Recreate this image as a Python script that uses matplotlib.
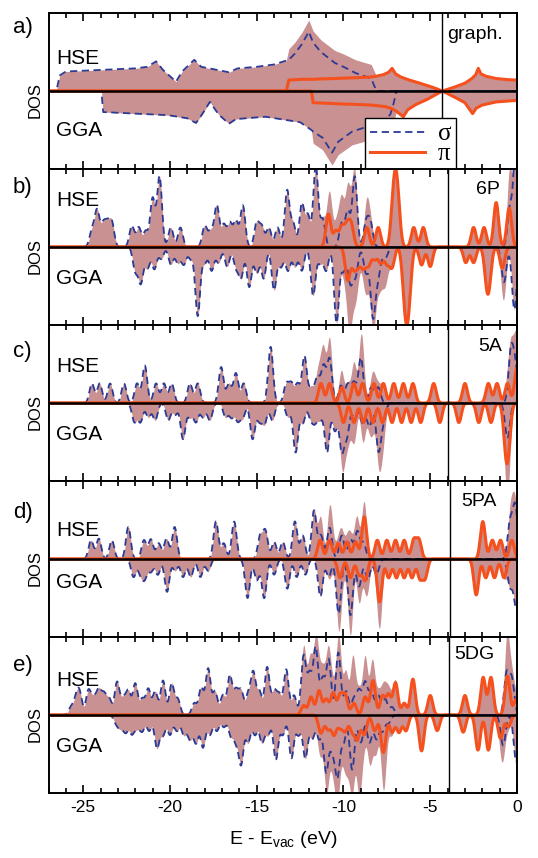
import numpy as np
import matplotlib.pyplot as plt
from matplotlib.ticker import MultipleLocator
from matplotlib.lines import Line2D

plt.rcParams['font.family'] = ['Liberation Sans', 'DejaVu Sans']
plt.rcParams['axes.unicode_minus'] = False

FILL = '#c99191'
SIGMA_C = '#2b3a95'
PI_C = '#f4511e'

# ---- a) graphene: (E, sigma, pi) ----
a_hse = [
    (-27.0, 0, 0), (-26.55, 0, 0), (-26.35, .20, 0), (-26.0, .25, 0),
    (-24.0, .27, 0), (-22.0, .29, 0), (-21.3, .31, 0), (-20.8, .38, 0),
    (-20.4, .27, 0), (-19.65, .12, 0), (-19.3, .25, 0), (-18.6, .40, 0),
    (-18.2, .31, 0), (-17.5, .28, 0), (-16.6, .24, 0), (-16.1, .29, 0),
    (-15.0, .31, 0), (-14.0, .34, 0), (-13.3, .39, 0), (-13.15, .40, .14),
    (-12.8, .48, .145), (-12.4, .60, .15), (-12.0, .76, .15), (-11.75, .62, .15),
    (-11.3, .50, .155), (-10.5, .36, .16), (-10.0, .31, .165), (-9.3, .23, .17),
    (-8.4, .16, .18), (-8.1, 0, .19), (-7.7, 0, .21), (-7.4, 0, .24),
    (-7.2, 0, .29), (-7.0, 0, .22), (-6.7, 0, .18), (-6.2, 0, .14),
    (-5.6, 0, .10), (-4.9, 0, .05), (-4.3, 0, 0), (-3.6, 0, .05),
    (-3.0, 0, .10), (-2.6, 0, .16), (-2.38, 0, .21), (-2.23, 0, .29),
    (-2.08, 0, .22), (-1.8, 0, .19), (-1.2, 0, .16), (-0.5, 0, .145),
    (0.0, 0, .14),
]
a_gga = [
    (-27.0, 0, 0), (-23.95, 0, 0), (-23.85, .27, 0), (-22.0, .29, 0),
    (-20.1, .31, 0), (-19.0, .35, 0), (-18.5, .41, 0), (-18.15, .30, 0),
    (-17.7, .14, 0), (-17.2, .30, 0), (-16.6, .42, 0), (-16.2, .36, 0),
    (-14.5, .33, 0), (-12.5, .40, 0), (-11.85, .50, 0), (-11.75, .52, .15),
    (-11.2, .60, .155), (-10.66, .79, .16), (-10.3, .65, .165), (-9.5, .52, .17),
    (-8.4, .44, .18), (-7.6, .36, .20), (-7.3, .30, .22), (-7.1, .15, .24),
    (-6.95, 0, .26), (-6.55, 0, .33), (-6.3, 0, .24), (-5.8, 0, .17),
    (-5.2, 0, .11), (-4.3, 0, 0), (-3.5, 0, .09), (-3.0, 0, .15),
    (-2.56, 0, .29), (-2.35, 0, .22), (-2.0, 0, .18), (-1.2, 0, .14),
    (0.0, 0, .12),
]

# ---- b)-e): molecular levels (E in eV, peak height) ----
b_hse_sigma = [(-24.5, .2), (-24.2, .46), (-23.85, .27), (-23.6, .25), (-23.35, .3),
               (-22.2, .27), (-21.8, .25), (-21.4, .2), (-21.0, .62), (-20.6, .9),
               (-19.95, .25), (-19.4, .25), (-18.0, .27), (-17.65, .2), (-17.3, .53),
               (-16.9, .28), (-16.55, .3), (-16.2, .33), (-15.8, .53), (-15.0, .31),
               (-14.7, .25), (-14.3, .25), (-13.8, .25), (-13.25, .72), (-12.9, .3),
               (-12.4, .55), (-12.05, .4), (-11.6, 1.05), (-11.2, .35), (-10.1, .3),
               (-9.75, .45), (-9.35, .9), (-8.7, .3), (-8.45, .3),
               (-0.4, .5), (-0.05, 1.4)]
b_hse_pi = [(-10.87, .42), (-10.45, .2), (-10.1, .25), (-9.8, .26), (-9.55, .27),
            (-8.65, .25), (-8.0, .25), (-7.15, .4), (-7.0, .55), (-6.85, .4),
            (-5.95, .25), (-5.4, .25), (-2.5, .25), (-1.9, .25), (-1.2, .57),
            (-0.45, .5)]
b_hse_other = [(-10.75, .35), (-10.3, .2)]
b_gga_sigma = [(-22.0, .3), (-21.68, .45), (-21.3, .27), (-20.9, .28), (-20.5, .15),
               (-19.95, .22), (-19.55, .2), (-19.2, .22), (-18.8, .15), (-18.4, .88),
               (-18.0, .2), (-17.6, .3), (-17.2, .2), (-16.7, .25), (-16.2, .25),
               (-15.9, .38), (-15.43, .51), (-15.0, .33), (-14.6, .4), (-14.0, .55),
               (-13.6, .25), (-13.2, .3), (-12.8, .25), (-12.4, .3), (-11.75, .62),
               (-11.35, .2), (-11.0, .3), (-10.4, .97), (-10.0, .3), (-9.6, .45),
               (-9.3, .35), (-8.7, .33), (-8.3, .88), (-8.0, .35), (-7.6, .15),
               (-0.75, .45), (-0.15, .8)]
b_gga_pi = [(-9.76, .42), (-9.4, .25), (-9.15, .2), (-8.85, .25), (-8.55, .22),
            (-8.2, .15), (-7.85, .2), (-7.5, .2), (-7.2, .25), (-6.5, .4),
            (-6.35, .55), (-6.2, .4), (-5.5, .23), (-5.0, .25), (-2.95, .2),
            (-2.5, .2), (-1.75, .35), (-1.6, .35), (-0.85, .27)]
b_gga_other = [(-9.65, .3), (-7.7, .2)]

c_hse_sigma = [(-24.5, .25), (-24.05, .25), (-23.45, .25), (-22.65, .25), (-21.9, .25),
               (-21.45, .48), (-20.8, .25), (-20.35, .25), (-19.9, .25), (-18.85, .25),
               (-18.4, .25), (-17.05, .46), (-16.6, .25), (-16.2, .38), (-15.75, .25),
               (-14.2, .72), (-13.3, .24), (-13.0, .24), (-12.65, .24), (-12.25, .6),
               (-11.85, .2), (-11.5, .33), (-11.15, .46), (-10.8, .56), (-10.15, .22),
               (-9.75, .24), (-9.4, .26), (-9.0, .58), (-8.4, .2), (-8.0, .2),
               (-0.35, .65), (-0.1, .45)]
c_hse_pi = [(-11.3, .25), (-10.8, .25), (-10.1, .2), (-9.4, .25), (-8.9, .25),
            (-8.25, .25), (-7.7, .25), (-7.1, .25), (-6.55, .25), (-6.0, .25),
            (-4.8, .25), (-3.0, .25), (-1.65, .25), (-1.15, .25), (-0.55, .25),
            (0.0, .45)]
c_hse_other = [(-11.1, .1), (-8.95, .1)]
c_gga_sigma = [(-22.05, .24), (-21.7, .24), (-21.25, .18), (-20.85, .22), (-20.1, .22),
               (-19.7, .15), (-19.25, .46), (-18.85, .18), (-18.5, .24), (-18.1, .18),
               (-17.7, .22), (-16.8, .18), (-16.45, .18), (-16.1, .22), (-15.8, .18),
               (-15.24, .46), (-14.85, .22), (-14.55, .26), (-14.1, .22), (-13.2, .18),
               (-12.76, .63), (-12.35, .26), (-11.9, .18), (-11.65, .22), (-11.35, .2),
               (-10.95, .63), (-10.5, .35), (-10.1, .6), (-9.8, .4), (-9.35, .2),
               (-8.9, .25), (-8.5, .3), (-7.98, .6), (-7.7, .2), (-0.55, .45)]
c_gga_pi = [(-10.0, .25), (-9.4, .25), (-8.85, .25), (-8.3, .25), (-7.75, .25),
            (-7.2, .25), (-6.65, .25), (-6.1, .25), (-5.55, .25), (-4.45, .25),
            (-3.35, .25), (-2.2, .25), (-1.5, .25), (-0.65, .45), (-0.5, .45)]
c_gga_other = [(-9.6, .2), (-7.9, .15)]

d_hse_sigma = [(-24.55, .24), (-24.1, .26), (-23.35, .24), (-22.4, .41), (-21.5, .24),
               (-21.1, .25), (-20.65, .2), (-20.2, .26), (-19.73, .41), (-17.35, .48),
               (-16.9, .2), (-16.3, .48), (-14.8, .29), (-14.5, .35), (-14.0, .22),
               (-13.5, .22), (-12.8, .48), (-12.35, .3), (-11.7, .62), (-11.3, .3),
               (-10.8, .4), (-10.1, .3), (-9.6, .25), (-9.2, .35), (-8.85, .2),
               (-0.4, .46), (-0.1, .67)]
d_hse_pi = [(-11.35, .24), (-10.8, .24), (-10.3, .2), (-9.8, .22), (-9.3, .22),
            (-8.8, .54), (-8.05, .24), (-7.5, .24), (-7.0, .24), (-6.5, .24),
            (-5.95, .24), (-5.65, .24), (-1.97, .48), (-1.42, .24), (-0.95, .24),
            (-0.3, .24)]
d_hse_other = [(-10.6, .15)]
d_gga_sigma = [(-22.1, .23), (-21.7, .18), (-21.45, .23), (-21.1, .16), (-20.7, .2),
               (-20.17, .42), (-19.7, .15), (-19.25, .23), (-18.8, .23), (-18.25, .23),
               (-17.8, .15), (-15.53, .5), (-15.0, .27), (-14.57, .5), (-14.0, .2),
               (-13.24, .38), (-12.7, .23), (-12.2, .2), (-11.33, .48), (-10.85, .23),
               (-10.28, .7), (-9.6, .72), (-9.1, .35), (-8.6, .27), (-8.1, .2),
               (-0.4, .35), (-0.05, .6)]
d_gga_pi = [(-10.2, .24), (-9.6, .24), (-9.1, .2), (-8.75, .27), (-7.92, .55),
            (-7.4, .24), (-6.95, .24), (-6.5, .24), (-6.05, .24), (-5.6, .24),
            (-5.3, .24), (-2.35, .46), (-1.8, .24), (-1.3, .24), (-0.75, .24)]
d_gga_other = [(-7.9, .25), (-9.9, .15), (-10.6, .1)]

e_hse_sigma = [(-25.7, .1), (-25.4, .2), (-25.2, .25), (-24.7, .31), (-24.4, .2),
               (-24.1, .31), (-23.8, .25), (-23.5, .2), (-23.05, .42), (-22.7, .2),
               (-22.4, .3), (-22.0, .4), (-21.6, .2), (-21.25, .33), (-20.85, .3),
               (-20.4, .44), (-19.9, .4), (-19.55, .2), (-18.6, .15), (-18.2, .35),
               (-17.8, .59), (-17.4, .3), (-16.95, .25), (-16.55, .5), (-16.2, .3),
               (-15.9, .3), (-15.5, .25), (-15.2, .53), (-14.85, .3), (-14.4, .61),
               (-14.0, .3), (-13.7, .25), (-13.3, .58), (-12.85, .25), (-12.3, .75),
               (-11.95, .5), (-11.6, .85), (-11.2, .45), (-10.85, .7), (-10.3, .8),
               (-9.85, .3), (-9.4, .2), (-9.1, .3), (-8.75, .41), (-8.4, .3),
               (-8.0, .25), (-7.6, .2), (-7.2, .1), (-0.6, .52), (-0.3, .45)]
e_hse_pi = [(-12.3, .12), (-11.87, .23), (-11.41, .31), (-11.0, .2), (-10.6, .28),
            (-10.2, .25), (-9.9, .25), (-9.4, .15), (-8.75, .23), (-8.3, .44),
            (-7.75, .24), (-7.4, .26), (-7.0, .41), (-6.5, .15), (-6.0, .46),
            (-5.0, .25), (-3.0, .25), (-1.95, .48), (-1.5, .48), (-0.55, .5),
            (-0.05, .2)]
e_hse_other = [(-9.5, .45), (-8.8, .1)]
e_gga_sigma = [(-23.1, .1), (-22.85, .15), (-22.55, .21), (-22.2, .23), (-21.9, .15),
               (-21.6, .2), (-21.2, .2), (-20.75, .42), (-20.4, .25), (-20.0, .25),
               (-19.6, .2), (-19.2, .25), (-18.85, .3), (-18.5, .35), (-18.1, .41),
               (-17.7, .25), (-17.3, .2), (-16.9, .15), (-16.5, .25), (-16.2, .3),
               (-15.9, .61), (-15.5, .35), (-15.1, .25), (-14.7, .35), (-14.35, .25),
               (-13.9, .57), (-13.5, .25), (-13.0, .55), (-12.6, .25), (-12.2, .55),
               (-11.8, .3), (-11.4, .3), (-11.0, .72), (-10.65, .4), (-10.35, .76),
               (-10.0, .35), (-9.5, .7), (-9.0, .35), (-8.5, .35), (-8.1, .3),
               (-7.75, .2), (-7.4, .1), (-0.8, .39), (-0.05, .6)]
e_gga_pi = [(-11.3, .23), (-10.9, .18), (-10.55, .25), (-10.2, .15), (-9.9, .2),
            (-9.5, .2), (-9.2, .3), (-8.8, .25), (-8.2, .2), (-7.7, .48),
            (-7.2, .22), (-6.8, .22), (-6.4, .2), (-5.5, .46), (-4.6, .2),
            (-3.1, .22), (-2.25, .45), (-1.65, .45), (-0.95, .3), (-0.5, .15)]
e_gga_other = [(-10.35, .15), (-9.75, .45), (-9.1, .5), (-8.45, .25), (-7.65, .3),
               (-10.9, .1)]

energy = np.linspace(-27, 0, 2701)
WIDTH = 0.14


def broaden(levels):
    out = np.zeros_like(energy)
    for e0, h in levels:
        out += h * np.exp(-0.5 * ((energy - e0) / WIDTH) ** 2)
    return out


def draw_dos(ax, x, s_up, p_up, o_up, s_dn, p_dn, o_dn):
    ax.fill_between(x, 0, s_up + p_up + o_up, color=FILL, lw=0, zorder=1)
    ax.fill_between(x, 0, -(s_dn + p_dn + o_dn), color=FILL, lw=0, zorder=1)
    for s in (s_up, -s_dn):
        ax.plot(x, s, color=SIGMA_C, lw=1.3, ls=(0, (4, 2.5)), zorder=3)
    for p in (p_up, -p_dn):
        ax.plot(x, p, color=PI_C, lw=2.2, zorder=4)


fig = plt.figure(figsize=(5.38, 8.58), dpi=100)
W, H = 538.0, 858.0
left, right = 48.5, 517.0
tops = [13, 169, 325, 481, 637]
panel_h = 156

# (letter, tag, vacuum line, letter y, tag x, tag y, HSE y, GGA y)
layout = [
    ('a)', 'graph.', -4.3, 0.91, 0.85, 0.86, 0.71, 0.25),
    ('b)', '6P', -3.95, 0.88, 0.912, 0.87, 0.80, 0.30),
    ('c)', '5A', -3.95, 0.83, 0.917, 0.865, 0.735, 0.30),
    ('d)', '5PA', -3.85, 0.80, 0.880, 0.87, 0.68, 0.35),
    ('e)', '5DG', -3.9, 0.82, 0.866, 0.885, 0.72, 0.30),
]
mol_sets = [
    (b_hse_sigma, b_hse_pi, b_hse_other, b_gga_sigma, b_gga_pi, b_gga_other),
    (c_hse_sigma, c_hse_pi, c_hse_other, c_gga_sigma, c_gga_pi, c_gga_other),
    (d_hse_sigma, d_hse_pi, d_hse_other, d_gga_sigma, d_gga_pi, d_gga_other),
    (e_hse_sigma, e_hse_pi, e_hse_other, e_gga_sigma, e_gga_pi, e_gga_other),
]

axes = []
for i, (letter, tag, vline, ly, tx, ty, hy, gy) in enumerate(layout):
    bottom = H - (tops[i] + panel_h)
    ax = fig.add_axes([left / W, bottom / H, (right - left) / W, panel_h / H])
    axes.append(ax)

    if i == 0:
        eu, su, pu = map(np.array, zip(*a_hse))
        ed, sd, pd_ = map(np.array, zip(*a_gga))
        ax.fill_between(eu, 0, su + pu, color=FILL, lw=0, zorder=1)
        ax.fill_between(ed, 0, -(sd + pd_), color=FILL, lw=0, zorder=1)
        ax.plot(eu, su, color=SIGMA_C, lw=1.3, ls=(0, (4, 2.5)), zorder=3)
        ax.plot(ed, -sd, color=SIGMA_C, lw=1.3, ls=(0, (4, 2.5)), zorder=3)
        ax.plot(eu, pu, color=PI_C, lw=2.2, zorder=4)
        ax.plot(ed, -pd_, color=PI_C, lw=2.2, zorder=4)
    else:
        curves = [broaden(lv) for lv in mol_sets[i - 1]]
        draw_dos(ax, energy, *curves)

    ax.axhline(0, color='k', lw=1.8, zorder=6)
    ax.axvline(vline, color='k', lw=1.0, zorder=6)
    ax.set_xlim(-27, 0)
    ax.set_ylim(-1, 1)
    ax.set_yticks([])
    ax.xaxis.set_major_locator(MultipleLocator(5))
    ax.xaxis.set_minor_locator(MultipleLocator(1))
    ax.tick_params(axis='x', which='both', direction='in', top=True, bottom=True,
                   width=1.2, labelsize=12.5, pad=5)
    ax.tick_params(axis='x', which='major', length=6)
    ax.tick_params(axis='x', which='minor', length=3.5)
    for sp in ax.spines.values():
        sp.set_linewidth(1.4)
        sp.set_zorder(7)
    if i < 4:
        ax.tick_params(axis='x', labelbottom=False)

    ax.text(-0.076, ly, letter, transform=ax.transAxes, fontsize=16,
            ha='left', va='center')
    ax.text(tx, ty, tag, transform=ax.transAxes, fontsize=14,
            ha='left', va='center')
    ax.text(0.016, hy, 'HSE', transform=ax.transAxes, fontsize=15,
            ha='left', va='center', zorder=8)
    ax.text(0.016, gy, 'GGA', transform=ax.transAxes, fontsize=15,
            ha='left', va='center', zorder=8)
    ax.text(-0.029, 0.44, 'DOS', transform=ax.transAxes, fontsize=12,
            rotation=90, ha='center', va='center')

handles = [Line2D([], [], color=SIGMA_C, lw=1.3, ls=(0, (4, 2.5))),
           Line2D([], [], color=PI_C, lw=2.2)]
leg = axes[0].legend(handles, ['σ', 'π'], loc='upper left',
                     bbox_to_anchor=(0.676, 0.327), borderaxespad=0,
                     prop={'family': 'Liberation Serif', 'size': 18},
                     handlelength=2.2, handletextpad=0.5, labelspacing=-0.1,
                     borderpad=0.2, fancybox=False, edgecolor='k',
                     framealpha=1)
leg.get_frame().set_linewidth(1.0)
leg.set_zorder(9)

axes[-1].set_xlabel('E - E$_\\mathregular{vac}$ (eV)', fontsize=14, labelpad=10)

fig.savefig('out.png', dpi=100)
